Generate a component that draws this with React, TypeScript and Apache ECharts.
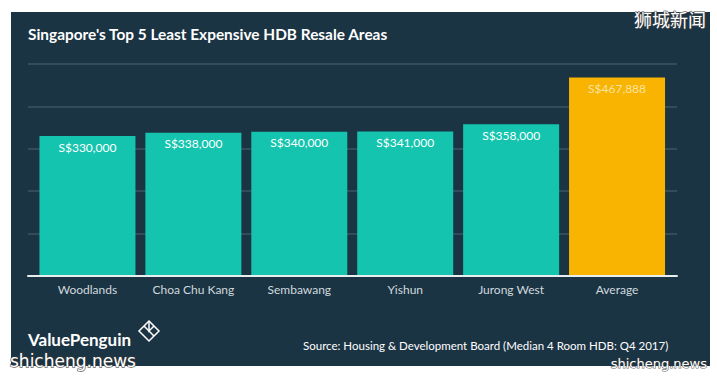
import React, { useEffect, useRef } from "react";
import * as echarts from "echarts";

const categories = ["Woodlands", "Choa Chu Kang", "Sembawang", "Yishun", "Jurong West", "Average"];
const values = [330000, 338000, 340000, 341000, 358000, 467888];
const valueLabels = ["S$330,000", "S$338,000", "S$340,000", "S$341,000", "S$358,000", "S$467,888"];
const barColors = ["#14c4ae", "#14c4ae", "#14c4ae", "#14c4ae", "#14c4ae", "#f8b400"];
const labelColors = ["#ffffff", "#ffffff", "#ffffff", "#ffffff", "#ffffff", "#fbe3a0"];
const titleText = "Singapore's Top 5 Least Expensive HDB Resale Areas";
const sourceText = "Source: Housing & Development Board (Median 4 Room HDB: Q4 2017)";
const brandText = "ValuePenguin";

const FONT = "Lato, 'Open Sans', sans-serif";

export default function App() {
  const ref = useRef<HTMLDivElement>(null);
  useEffect(() => {
    if (!ref.current) return;
    const chart = echarts.init(ref.current, null, { renderer: "svg" });
    const yCommon = { type: "value", min: 0, max: 500000, interval: 100000 };
    chart.setOption({
      animation: false,
      backgroundColor: "#ffffff",
      textStyle: { fontFamily: FONT },
      grid: [
        { left: 28, right: 40, top: 64, bottom: 100 },
        { left: 34.5, right: 47, top: 64, bottom: 100 },
      ],
      xAxis: [
        {
          gridIndex: 0,
          type: "value",
          min: 0,
          max: 1,
          z: 5,
          axisLine: { show: true, lineStyle: { color: "#e6eef0", width: 2 } },
          axisTick: { show: false },
          axisLabel: { show: false },
          splitLine: { show: false },
        },
        {
          gridIndex: 1,
          type: "category",
          data: categories,
          axisLine: { show: false },
          axisTick: { show: false },
          axisLabel: { interval: 0, color: "#cfd9dd", fontSize: 12, margin: 7, fontFamily: FONT },
        },
      ],
      yAxis: [
        {
          ...yCommon,
          gridIndex: 0,
          axisLine: { show: false },
          axisTick: { show: false },
          axisLabel: { show: false },
          splitLine: { show: true, lineStyle: { color: "#3b5565", width: 1.5 } },
        },
        {
          ...yCommon,
          gridIndex: 1,
          show: false,
          splitLine: { show: false },
        },
      ],
      series: [
        {
          type: "bar",
          xAxisIndex: 1,
          yAxisIndex: 1,
          barWidth: 96,
          data: values.map((v, i) => ({
            value: v,
            itemStyle: { color: barColors[i] },
            label: {
              show: true,
              position: "insideTop",
              distance: 5,
              formatter: valueLabels[i],
              color: labelColors[i],
              fontSize: 12,
              fontFamily: FONT,
            },
          })),
        },
      ],
      graphic: [
        {
          type: "rect",
          z: -10,
          shape: { x: 11, y: 12, width: 699, height: 354 },
          style: { fill: "#1b3444" },
        },
        {
          type: "text",
          x: 28,
          y: 34,
          style: {
            text: titleText,
            fill: "#ffffff",
            font: `bold 15.4px ${FONT}`,
            textVerticalAlign: "middle",
          },
        },
        {
          type: "text",
          x: 28,
          y: 339,
          style: {
            text: brandText,
            fill: "#ffffff",
            font: `bold 17px ${FONT}`,
            textVerticalAlign: "middle",
          },
        },
        {
          type: "polygon",
          shape: { points: [[149, 321], [159, 331], [149, 341], [139, 331]] },
          style: { fill: "none", stroke: "#ffffff", lineWidth: 1.5 },
        },
        {
          type: "polyline",
          shape: { points: [[144, 326], [154, 336]] },
          style: { fill: "none", stroke: "#ffffff", lineWidth: 1.5 },
        },
        {
          type: "polyline",
          shape: { points: [[149, 321], [149, 331], [154, 326]] },
          style: { fill: "none", stroke: "#ffffff", lineWidth: 1.5 },
        },
        {
          type: "text",
          x: 303,
          y: 345,
          style: {
            text: sourceText,
            fill: "#ffffff",
            font: `11.5px ${FONT}`,
            textVerticalAlign: "middle",
          },
        },
        {
          type: "text",
          x: 706,
          y: 19,
          z: 20,
          style: {
            text: "狮城新闻",
            fill: "#ffffff",
            stroke: "rgba(70,70,70,0.7)",
            lineWidth: 1.5,
            font: "18px 'Noto Sans CJK SC'",
            textAlign: "right",
            textVerticalAlign: "middle",
          },
        },
        {
          type: "text",
          x: 10,
          y: 361,
          z: 20,
          style: {
            text: "shicheng.news",
            fill: "#ffffff",
            stroke: "rgba(60,60,60,0.8)",
            lineWidth: 1.5,
            font: "17px 'DejaVu Sans'",
            textVerticalAlign: "middle",
          },
        },
        {
          type: "text",
          x: 707,
          y: 363,
          z: 20,
          style: {
            text: "shicheng.news",
            fill: "#ffffff",
            stroke: "rgba(60,60,60,0.8)",
            lineWidth: 1.2,
            font: "13px 'DejaVu Sans'",
            textAlign: "right",
            textVerticalAlign: "middle",
          },
        },
      ],
    });
    return () => chart.dispose();
  }, []);
  return (
    <div
      ref={ref}
      style={{ position: "fixed", left: 0, top: 0, width: 717, height: 376 }}
    />
  );
}
